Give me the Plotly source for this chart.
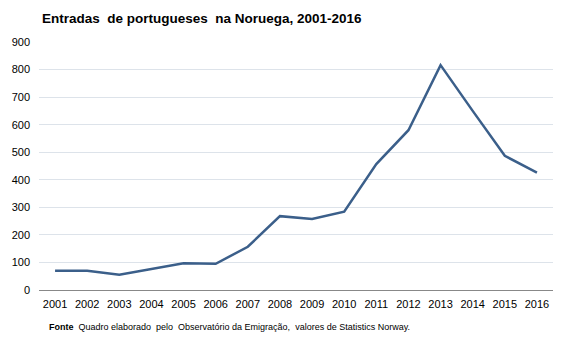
import plotly.graph_objects as go

years = [str(y) for y in range(2001, 2017)]
entradas = [70, 70, 55, 75, 97, 95, 157, 268, 258, 284, 457, 580, 816, 650, 487, 426]
y_ticks = [0, 100, 200, 300, 400, 500, 600, 700, 800, 900]

W, H = 567, 340
ml, mr, mt, mb = 36, 14, 42, 50

fig = go.Figure()
fig.add_trace(go.Scatter(
    x=list(range(2001, 2017)), y=entradas, mode="lines",
    line=dict(color="#3b5f8a", width=2.5), hoverinfo="x+y",
))

fig.update_layout(
    width=W, height=H,
    margin=dict(l=ml, r=mr, t=mt, b=mb),
    paper_bgcolor="white", plot_bgcolor="white",
    font=dict(family="Liberation Sans, Arial, sans-serif", size=11, color="#000000"),
    showlegend=False,
    title=dict(text="<b>Entradas  de portugueses  na Noruega, 2001-2016</b>",
               x=42 / W, xanchor="left", xref="container",
               y=1 - 18 / H, yanchor="middle", yref="container",
               font=dict(size=13.5, color="#000000")),
    xaxis=dict(range=[2000.5, 2016.5], tickmode="array",
               tickvals=list(range(2001, 2017)), ticktext=years,
               showgrid=False, zeroline=False, showline=True,
               linecolor="#888888", linewidth=1, ticks="",
               ticklabelstandoff=4,
               tickfont=dict(size=11), fixedrange=True),
    yaxis=dict(range=[0, 900], tickmode="array", tickvals=y_ticks,
               showgrid=True, gridcolor="#dde3ea", gridwidth=1,
               zeroline=False, showline=False, ticks="",
               ticklabelstandoff=8,
               tickfont=dict(size=11), fixedrange=True),
    annotations=[dict(
        text="<b>Fonte</b>  Quadro elaborado  pelo  Observatório da Emigração,  valores de Statistics Norway.",
        xref="paper", yref="paper", x=(44 - ml) / (W - ml - mr), y=-(327 - (H - mb)) / (H - mt - mb),
        xanchor="left", yanchor="middle", showarrow=False,
        font=dict(size=9, color="#000000"),
    )],
)

fig.write_html("out.html")
